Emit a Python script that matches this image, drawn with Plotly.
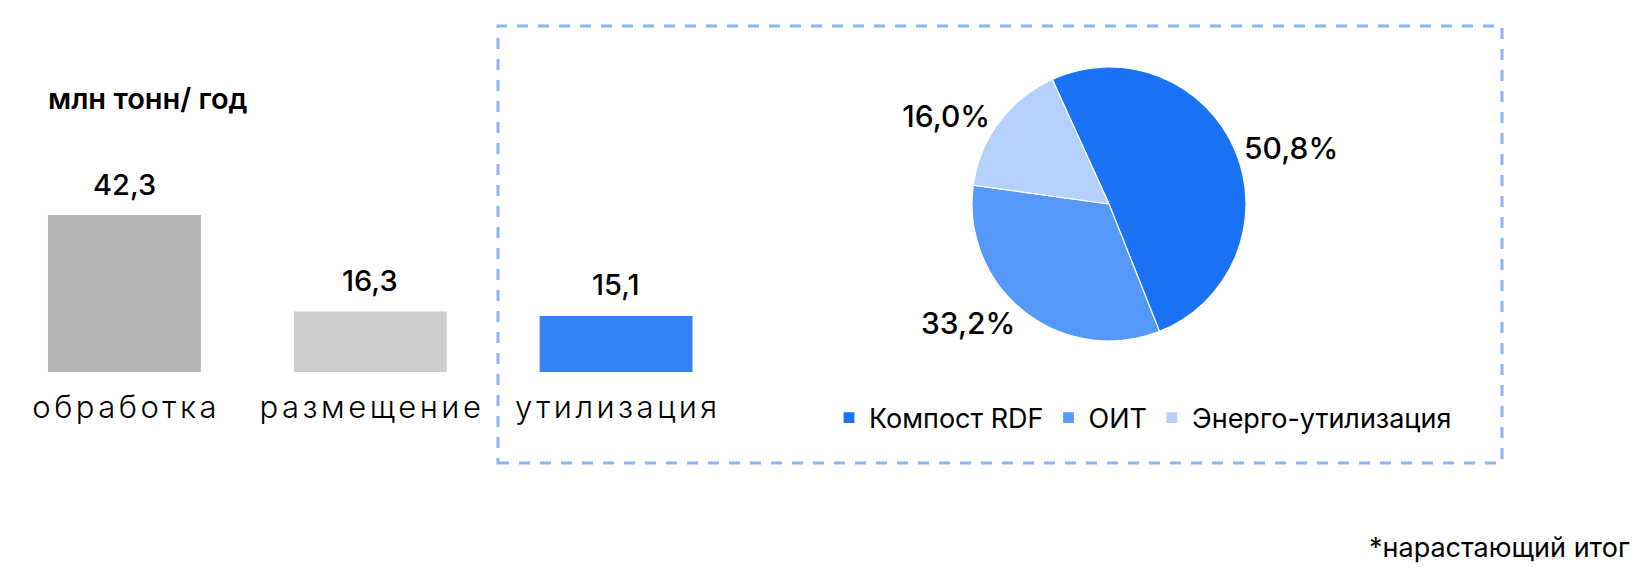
import plotly.graph_objects as go

# ---- data ----
bar_categories = ["обработка", "размещение", "утилизация"]
bar_values = [42.3, 16.3, 15.1]
bar_colors = ["#B3B3B3", "#CCCCCC", "#3482F5"]

pie_labels = ["Компост RDF", "ОИТ", "Энерго-утилизация"]
pie_values = [50.8, 33.2, 16.0]
pie_colors = ["#1A73F5", "#5599F8", "#B3D1FC"]

unit_title = "млн тонн/ год"
footnote = "*нарастающий итог"

W, H = 1649, 567
FONT = "Inter"


def px_x(p):
    return p / W


def px_y(p):
    return 1 - p / H


fig = go.Figure()

fig.add_trace(go.Bar(
    x=bar_categories,
    y=bar_values,
    marker=dict(color=bar_colors, line=dict(width=0)),
    showlegend=False,
    hoverinfo="skip",
    xaxis="x",
    yaxis="y",
))

fig.add_trace(go.Pie(
    labels=pie_labels,
    values=pie_values,
    marker=dict(colors=pie_colors, line=dict(color="white", width=1.2)),
    sort=False,
    direction="clockwise",
    rotation=-24.5,
    textinfo="percent",
    texttemplate="%{percent:.1%}",
    textposition="outside",
    outsidetextfont=dict(family=FONT, size=30, color="#000000", weight=500),
    domain=dict(x=[px_x(972), px_x(1246)], y=[px_y(341), px_y(67)]),
    showlegend=True,
    hoverinfo="label+percent",
))

# value labels above bars (positioned via data coordinates)
annotations = []
for c, v in zip(bar_categories, bar_values):
    annotations.append(dict(
        x=c, y=v, xref="x", yref="y",
        text=f"{v:.1f}".replace(".", ","),
        showarrow=False, yanchor="middle", yshift=31,
        font=dict(family=FONT, size=29, color="#000000", weight=500),
    ))

annotations.append(dict(
    x=px_x(46), y=px_y(98), xref="paper", yref="paper",
    xanchor="left", yanchor="middle", showarrow=False,
    text=unit_title,
    font=dict(family=FONT, size=29, color="#000000", weight=600),
))
annotations.append(dict(
    x=px_x(1632), y=px_y(547), xref="paper", yref="paper",
    xanchor="right", yanchor="middle", showarrow=False,
    text=footnote,
    font=dict(family=FONT, size=27, color="#000000"),
))

fig.update_layout(
    width=W, height=H,
    margin=dict(l=0, r=0, t=0, b=0),
    paper_bgcolor="white",
    plot_bgcolor="white",
    separators=", ",
    bargap=0.378,
    font=dict(family=FONT, color="#000000"),
    xaxis=dict(
        domain=[px_x(1.5), px_x(739)],
        showgrid=False, zeroline=False, showline=False,
        ticks="", ticklabelstandoff=14,
        tickfont=dict(family=FONT, size=31, color="#000000", weight=300),
        fixedrange=True,
    ),
    yaxis=dict(
        domain=[px_y(372), px_y(186.5)],
        range=[0, 50],
        visible=False,
        fixedrange=True,
    ),
    legend=dict(
        orientation="h",
        x=px_x(829), y=px_y(418),
        xanchor="left", yanchor="middle",
        font=dict(family=FONT, size=27, color="#000000"),
        bgcolor="rgba(0,0,0,0)",
        traceorder="normal",
    ),
    annotations=annotations,
    shapes=[dict(
        type="rect", xref="paper", yref="paper",
        x0=px_x(498), x1=px_x(1502), y0=px_y(463), y1=px_y(26),
        line=dict(color="#8AB4F8", width=3, dash="11px,10px"),
        fillcolor="rgba(0,0,0,0)",
        layer="below",
    )],
)

post_js = (
    "document.body.style.margin='0';"
    "document.querySelectorAll('.xaxislayer-above .xtick text').forEach(function(t){"
    "t.style.letterSpacing='3.5px';t.setAttribute('dx','1.75');});"
)

fig.write_html("out.html", post_script=post_js,
               config={"displayModeBar": False, "staticPlot": True})
